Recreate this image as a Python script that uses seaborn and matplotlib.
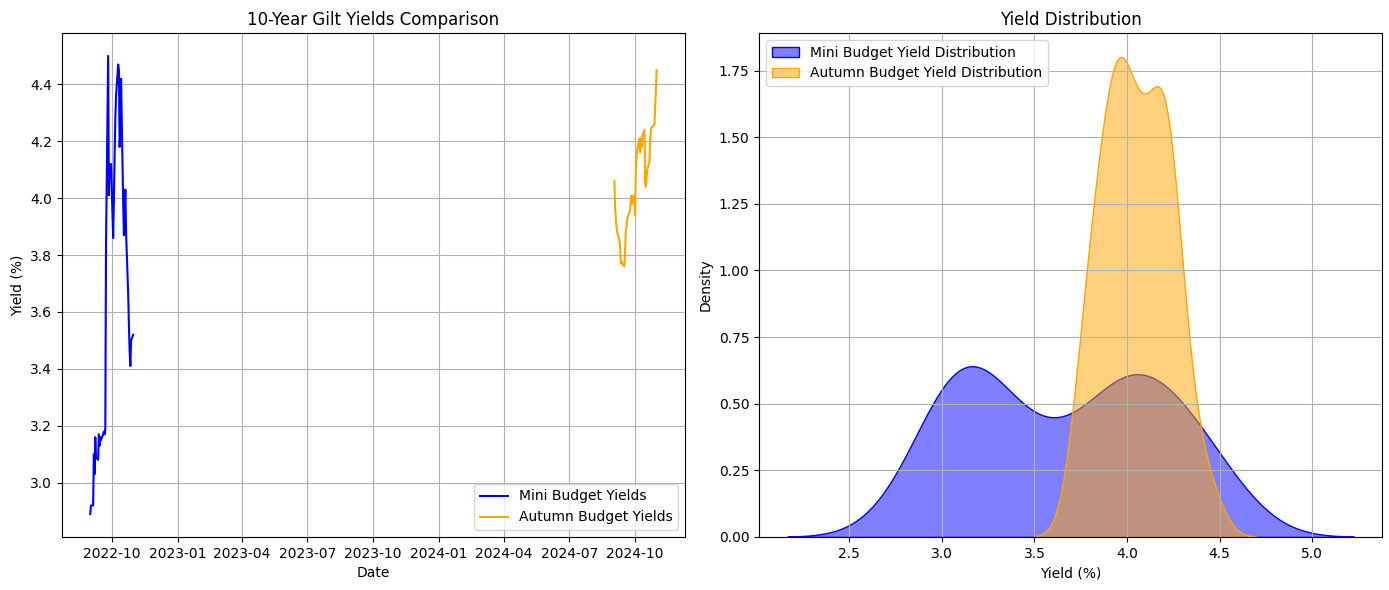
import pandas as pd
import matplotlib.pyplot as plt
import seaborn as sns

# -----------------------------
# Data (10-year gilt yields, business days)
# -----------------------------
mini_start, mini_end = "2022-09-01", "2022-10-31"
autumn_start, autumn_end = "2024-09-02", "2024-10-31"

mini_yields = [
    2.89, 2.92, 2.92, 3.10, 3.03, 3.16, 3.09, 3.08, 3.17, 3.13, 3.16,
    3.15, 3.17, 3.18, 3.17, 3.19, 3.84, 4.50, 4.01, 4.12, 4.08, 4.12,
    3.86, 4.00, 4.15, 4.28, 4.36, 4.47, 4.45, 4.18, 4.24, 4.42, 3.98,
    3.87, 3.95, 4.03, 3.88, 3.66, 3.55, 3.46, 3.41, 3.50, 3.52,
]
autumn_yields = [
    4.06, 3.97, 3.93, 3.90, 3.88, 3.85, 3.83, 3.77, 3.78, 3.77, 3.76,
    3.82, 3.89, 3.90, 3.93, 3.95, 3.96, 3.99, 4.01, 3.98, 4.01, 3.94,
    4.10, 4.15, 4.17, 4.21, 4.16, 4.21, 4.18, 4.22, 4.24, 4.05, 4.04,
    4.07, 4.10, 4.13, 4.20, 4.24, 4.25, 4.25, 4.26, 4.32, 4.38, 4.45,
]

mini = pd.DataFrame({"Date": pd.bdate_range(mini_start, mini_end), "Yield": mini_yields})
autumn = pd.DataFrame({"Date": pd.bdate_range(autumn_start, autumn_end), "Yield": autumn_yields})

# -----------------------------
# Plot
# -----------------------------
fig, (ax1, ax2) = plt.subplots(1, 2, figsize=(13.89, 5.9), dpi=100)

sns.lineplot(data=mini, x="Date", y="Yield", color="blue", label="Mini Budget Yields", ax=ax1)
sns.lineplot(data=autumn, x="Date", y="Yield", color="orange", label="Autumn Budget Yields", ax=ax1)
ax1.set_title("10-Year Gilt Yields Comparison")
ax1.set_xlabel("Date")
ax1.set_ylabel("Yield (%)")
ax1.legend(loc="lower right")
ax1.grid(True)

sns.kdeplot(mini["Yield"], fill=True, color="blue", alpha=0.5,
            label="Mini Budget Yield Distribution", ax=ax2)
sns.kdeplot(autumn["Yield"], fill=True, color="orange", alpha=0.5,
            label="Autumn Budget Yield Distribution", ax=ax2)
ax2.set_title("Yield Distribution")
ax2.set_xlabel("Yield (%)")
ax2.set_ylabel("Density")
ax2.legend(loc="upper left")
ax2.grid(True)

fig.subplots_adjust(left=0.0446, right=0.995, bottom=0.09, top=0.944, wspace=0.119)
plt.savefig("out.png", dpi=100)
plt.close()
